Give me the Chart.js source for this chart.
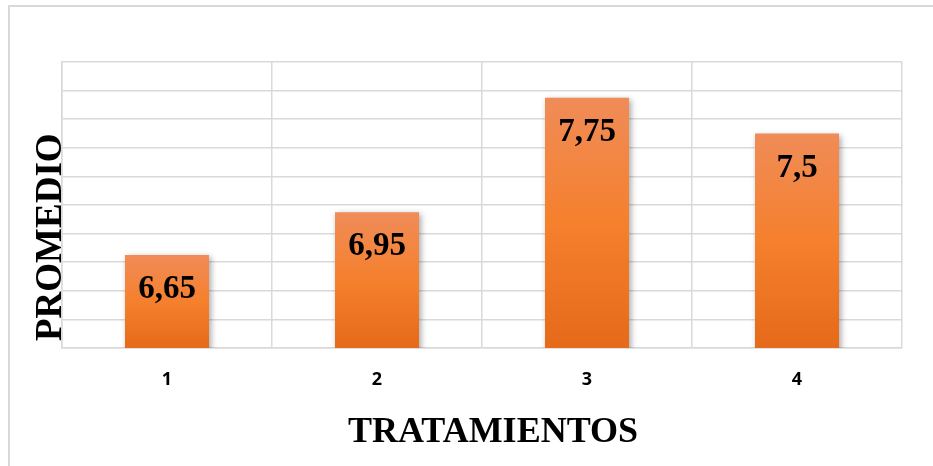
<!DOCTYPE html>
<html>
<head>
<meta charset="utf-8">
<script src="https://cdn.jsdelivr.net/npm/chart.js@4.4.1/dist/chart.umd.min.js"></script>
<style>
  html, body { margin: 0; padding: 0; background: #ffffff; }
  #wrap { width: 933px; height: 466px; position: relative; }
</style>
</head>
<body>
<div id="wrap"><canvas id="grafico" width="933" height="466"></canvas></div>
<script>
// datos
const tratamientos = ["1", "2", "3", "4"];
const promedios = [6.65, 6.95, 7.75, 7.5];
const ejeYMin = 6;
const ejeYMax = 8;
const ejeYPaso = 0.2;
const tituloX = "TRATAMIENTOS";
const tituloY = "PROMEDIO";

const GRIS = "#d9d9d9";
const FUENTE_SERIF = "'Liberation Serif', 'Times New Roman', serif";

// borde exterior (solo arriba e izquierda visibles)
const bordeExterior = {
    id: "bordeExterior",
    beforeDraw(chart) {
        const ctx = chart.ctx;
        ctx.save();
        ctx.strokeStyle = GRIS;
        ctx.lineWidth = 2;
        ctx.beginPath();
        ctx.moveTo(9, 466);
        ctx.lineTo(9, 6);
        ctx.lineTo(933, 6);
        ctx.stroke();
        ctx.restore();
    }
};

// sombra de las barras
const sombraBarras = {
    id: "sombraBarras",
    beforeDatasetsDraw(chart) {
        const ctx = chart.ctx;
        ctx.save();
        ctx.shadowColor = "rgba(0,0,0,0.35)";
        ctx.shadowBlur = 6;
        ctx.shadowOffsetX = 2;
        ctx.shadowOffsetY = 2;
    },
    afterDatasetsDraw(chart) {
        chart.ctx.restore();
    }
};

// etiquetas de valor dentro de la barra
const etiquetasValor = {
    id: "etiquetasValor",
    afterDatasetsDraw(chart) {
        const ctx = chart.ctx;
        const meta = chart.getDatasetMeta(0);
        ctx.save();
        ctx.font = "bold 33px " + FUENTE_SERIF;
        ctx.fillStyle = "#000000";
        ctx.textAlign = "center";
        ctx.textBaseline = "alphabetic";
        meta.data.forEach((bar, i) => {
            const txt = String(promedios[i]).replace(".", ",");
            ctx.fillText(txt, bar.x, bar.y + 43);
        });
        ctx.restore();
    }
};

// titulos de ejes (posicion como en el original, algo desplazados)
const titulosEjes = {
    id: "titulosEjes",
    afterDraw(chart) {
        const ctx = chart.ctx;
        const area = chart.chartArea;
        ctx.save();
        ctx.fillStyle = "#000000";
        ctx.textBaseline = "alphabetic";

        ctx.font = "bold 36px " + FUENTE_SERIF;
        ctx.textAlign = "center";
        ctx.fillText(tituloX, (area.left + area.right) / 2 + 11, 442);

        ctx.font = "bold 37px " + FUENTE_SERIF;
        ctx.translate(61, area.bottom - 7);
        ctx.rotate(-Math.PI / 2);
        ctx.textAlign = "left";
        ctx.fillText(tituloY, 0, 0);
        ctx.restore();
    }
};

function degradado(context) {
    const chart = context.chart;
    const { ctx, chartArea, scales } = chart;
    if (!chartArea || !scales.y || context.dataIndex === undefined) return "#f5802f";
    const yTop = scales.y.getPixelForValue(promedios[context.dataIndex]);
    const yBot = scales.y.getPixelForValue(ejeYMin);
    if (!isFinite(yTop) || !isFinite(yBot)) return "#f5802f";
    const g = ctx.createLinearGradient(0, yTop, 0, yBot);
    g.addColorStop(0, "#f08c58");
    g.addColorStop(0.5, "#f5802d");
    g.addColorStop(1, "#e56a1a");
    return g;
}

const ctx = document.getElementById("grafico").getContext("2d");

new Chart(ctx, {
    type: "bar",
    data: {
        labels: tratamientos,
        datasets: [{
            data: promedios,
            backgroundColor: degradado,
            borderWidth: 0,
            barPercentage: 0.4,
            categoryPercentage: 1.0
        }]
    },
    options: {
        responsive: false,
        animation: false,
        events: [],
        layout: {
            padding: { top: 62, right: 31, bottom: 0, left: 0 }
        },
        plugins: {
            legend: { display: false },
            tooltip: { enabled: false }
        },
        scales: {
            x: {
                grid: { color: GRIS, lineWidth: 1.5, drawTicks: false },
                border: { color: GRIS, width: 1.5 },
                ticks: {
                    color: "#000000",
                    padding: 21,
                    font: { family: "'Open Sans', sans-serif", size: 18, weight: "bold" }
                },
                afterFit(scale) { scale.height = 466 - 348; }
            },
            y: {
                min: ejeYMin,
                max: ejeYMax,
                grid: { color: GRIS, lineWidth: 1.5, drawTicks: false },
                border: { color: GRIS, width: 1.5 },
                ticks: { display: false, stepSize: ejeYPaso },
                afterFit(scale) { scale.width = 62; }
            }
        }
    },
    plugins: [bordeExterior, sombraBarras, etiquetasValor, titulosEjes]
});
</script>
</body>
</html>
